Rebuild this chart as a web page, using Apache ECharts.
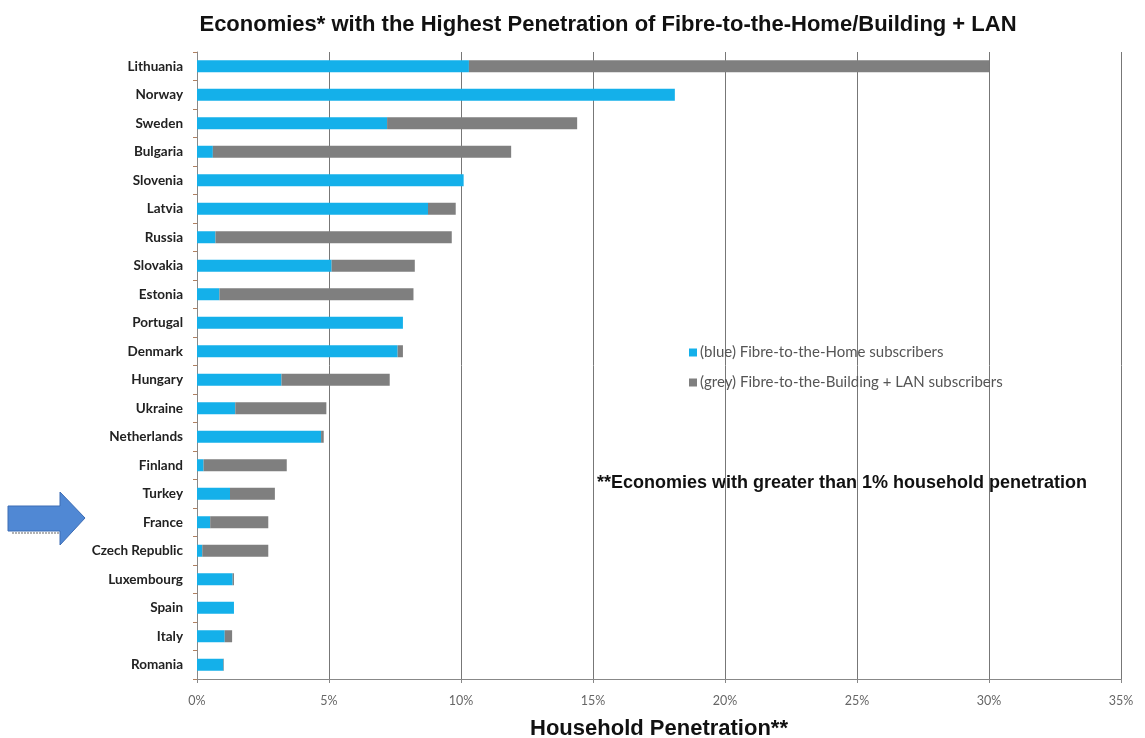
<!DOCTYPE html>
<html>
<head>
<meta charset="utf-8">
<script src="https://cdn.jsdelivr.net/npm/echarts@6/dist/echarts.min.js"></script>
<style>
  html, body { margin: 0; padding: 0; background: #fff; }
  #chart { width: 1145px; height: 738px; }
</style>
</head>
<body>
<div id="chart"></div>
<script>
// Economies ranked by total fibre household penetration (%)
const economies = [
  'Lithuania', 'Norway', 'Sweden', 'Bulgaria', 'Slovenia', 'Latvia', 'Russia',
  'Slovakia', 'Estonia', 'Portugal', 'Denmark', 'Hungary', 'Ukraine',
  'Netherlands', 'Finland', 'Turkey', 'France', 'Czech Republic',
  'Luxembourg', 'Spain', 'Italy', 'Romania'
];
// Fibre-to-the-Home share (%)
const ftthValues = [
  10.3, 18.1, 7.2, 0.6, 10.1, 8.75, 0.7,
  5.1, 0.85, 7.8, 7.6, 3.2, 1.45,
  4.7, 0.25, 1.25, 0.5, 0.2,
  1.35, 1.4, 1.05, 1.0
];
// Fibre-to-the-Building + LAN share (%)
const fttbLanValues = [
  19.7, 0, 7.2, 11.3, 0, 1.05, 8.95,
  3.15, 7.35, 0, 0.2, 4.1, 3.45,
  0.1, 3.15, 1.7, 2.2, 2.5,
  0.05, 0, 0.28, 0.02
];
const xTicks = [0, 5, 10, 15, 20, 25, 30, 35];

const seriesNames = [
  '(blue) Fibre-to-the-Home subscribers',
  '(grey) Fibre-to-the-Building + LAN subscribers'
];

const chart = echarts.init(document.getElementById('chart'));

chart.setOption({
  animation: false,
  backgroundColor: '#ffffff',
  title: {
    text: 'Economies* with the Highest Penetration of Fibre-to-the-Home/Building + LAN',
    left: 603,
    textAlign: 'center',
    top: 9,
    textStyle: {
      fontFamily: 'Liberation Sans, Arial, sans-serif',
      fontWeight: 'bold',
      fontSize: 22,
      color: '#111'
    }
  },
  legend: {
    orient: 'vertical',
    left: 684,
    top: 340,
    itemWidth: 8,
    itemHeight: 8,
    itemGap: 15,
    icon: 'rect',
    data: seriesNames,
    textStyle: {
      fontFamily: 'Lato, Open Sans, sans-serif',
      fontSize: 15,
      color: '#555',
      padding: [0, 0, 0, -2]
    }
  },
  grid: {
    left: 197,
    right: 24,
    top: 52,
    bottom: 59,
    containLabel: false,
    outerBoundsMode: 'none'
  },
  xAxis: {
    type: 'value',
    min: xTicks[0],
    max: xTicks[xTicks.length - 1],
    interval: 5,
    name: 'Household Penetration**',
    nameLocation: 'middle',
    nameGap: 39,
    nameTextStyle: {
      fontFamily: 'Liberation Sans, Arial, sans-serif',
      fontWeight: 'bold',
      fontSize: 22,
      color: '#111'
    },
    axisLine: { show: true, lineStyle: { color: '#888', width: 1 } },
    axisTick: { show: true, length: 4, lineStyle: { color: '#888' } },
    axisLabel: {
      formatter: v => v + '%',
      fontFamily: 'Lato, sans-serif',
      fontSize: 12.5,
      color: '#666',
      margin: 15
    },
    splitLine: { show: true, lineStyle: { color: '#777', width: 1 } }
  },
  yAxis: {
    type: 'category',
    data: economies,
    inverse: true,
    axisLine: { show: true, lineStyle: { color: '#888', width: 1 } },
    axisTick: { show: true, length: 4, lineStyle: { color: '#b08060' } },
    axisLabel: {
      fontFamily: 'Lato, Open Sans, sans-serif',
      fontWeight: 'bold',
      fontSize: 13.5,
      color: '#222',
      margin: 14
    }
  },
  series: [
    {
      name: seriesNames[0],
      type: 'bar',
      stack: 'total',
      data: ftthValues,
      barWidth: 12,
      itemStyle: { color: '#14b0ea' }
    },
    {
      name: seriesNames[1],
      type: 'bar',
      stack: 'total',
      data: fttbLanValues,
      barWidth: 12,
      itemStyle: { color: '#7f7f7f' }
    }
  ],
  graphic: [
    {
      type: 'text',
      left: 597,
      top: 474,
      style: {
        text: '**Economies with greater than 1% household penetration',
        fontFamily: 'Liberation Sans, Arial, sans-serif',
        fontWeight: 'bold',
        fontSize: 18,
        fill: '#111'
      }
    },
    {
      // pointer arrow beside the France row
      type: 'polygon',
      shape: {
        points: [[8, 506], [60, 506], [60, 492], [85, 518], [60, 545], [60, 531], [8, 531]]
      },
      style: { fill: '#5088d4', stroke: '#3c6cb4', lineWidth: 1 }
    },
    {
      type: 'line',
      shape: { x1: 12, y1: 533, x2: 60, y2: 533 },
      style: { stroke: '#999', lineWidth: 1.5, lineDash: [2, 1] }
    }
  ]
});
</script>
</body>
</html>
